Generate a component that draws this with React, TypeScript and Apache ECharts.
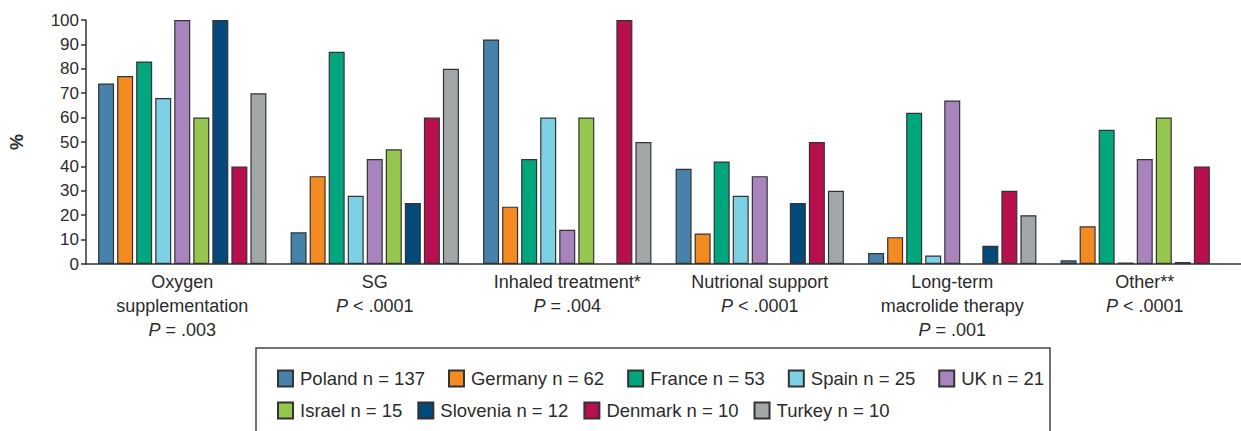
import React, { useEffect, useRef } from "react";
import * as echarts from "echarts";

const categories = [
  "Oxygen\nsupplementation",
  "SG",
  "Inhaled treatment*",
  "Nutrional support",
  "Long-term\nmacrolide therapy",
  "Other**",
];
const pValues = ["= .003", "< .0001", "= .004", "< .0001", "= .001", "< .0001"];

const countries = [
  "Poland n = 137",
  "Germany n = 62",
  "France n = 53",
  "Spain n = 25",
  "UK n = 21",
  "Israel n = 15",
  "Slovenia n = 12",
  "Denmark n = 10",
  "Turkey n = 10",
];
const colors = [
  "#4682A9",
  "#F48B21",
  "#00A67E",
  "#7CD1E4",
  "#A884BE",
  "#95C74F",
  "#03497A",
  "#B80F4E",
  "#A2A8AA",
];

const poland = [74, 13, 92, 39, 4.5, 1.5];
const germany = [77, 36, 23.5, 12.5, 11, 15.5];
const france = [83, 87, 43, 42, 62, 55];
const spain = [68, 28, 60, 28, 3.5, 0.6];
const uk = [100, 43, 14, 36, 67, 43];
const israel = [60, 47, 60, null, null, 60];
const slovenia = [100, 25, null, 25, 7.5, 0.8];
const denmark = [40, 60, 100, 50, 30, 40];
const turkey = [70, 80, 50, 30, 20, null];

const seriesValues = [poland, germany, france, spain, uk, israel, slovenia, denmark, turkey];

const yTicks = [0, 10, 20, 30, 40, 50, 60, 70, 80, 90, 100];

const FONT = "'Liberation Sans', Arial, Helvetica, sans-serif";
const TEXT = "#2b2b2b";

export default function App() {
  const ref = useRef<HTMLDivElement>(null);
  useEffect(() => {
    document.body.style.margin = "0";
    const chart = echarts.init(ref.current!, null, { renderer: "svg" });
    const legendCommon = {
      orient: "horizontal",
      itemWidth: 15,
      itemHeight: 16,
      padding: 0,
      icon: "rect",
      selectedMode: false,
      textStyle: { fontSize: 18.5, color: TEXT, fontFamily: FONT, padding: [0, 0, 0, 2] },
    };
    chart.setOption({
      animation: false,
      textStyle: { fontFamily: FONT },
      grid: { left: 83, right: 0, top: 20, bottom: 167, containLabel: false },
      legend: [
        { ...legendCommon, itemGap: 23, left: 277, top: 369, data: countries.slice(0, 5) },
        { ...legendCommon, itemGap: 15, left: 277, top: 401, data: countries.slice(5) },
      ],
      graphic: [
        {
          type: "rect",
          shape: { x: 256, y: 348, width: 794, height: 100 },
          style: { fill: "none", stroke: "#444", lineWidth: 1.5 },
          silent: true,
        },
      ],
      xAxis: {
        type: "category",
        data: categories,
        axisLine: { lineStyle: { color: "#333", width: 1.5 } },
        axisTick: { show: false },
        axisLabel: {
          interval: 0,
          margin: 6,
          fontSize: 18,
          lineHeight: 24,
          color: TEXT,
          fontFamily: FONT,
          formatter: (v: string) => {
            const i = categories.indexOf(v);
            return v + "\n{i|P} " + pValues[i];
          },
          rich: {
            i: { fontStyle: "italic", fontSize: 18, lineHeight: 24, color: TEXT, fontFamily: FONT },
          },
        },
      },
      yAxis: {
        type: "value",
        min: yTicks[0],
        max: yTicks[yTicks.length - 1],
        interval: 10,
        name: "%",
        nameLocation: "middle",
        nameRotate: 90,
        nameGap: 60,
        nameTextStyle: { fontSize: 18, fontWeight: "bold", color: TEXT, fontFamily: FONT },
        axisLine: { show: true, lineStyle: { color: "#333", width: 1.5 } },
        axisTick: { show: true, length: 5, lineStyle: { color: "#333", width: 1.5 } },
        axisLabel: { fontSize: 17, color: TEXT, margin: 7, fontFamily: FONT },
        splitLine: { show: false },
      },
      series: countries.map((name, k) => ({
        name,
        type: "bar",
        data: seriesValues[k],
        barWidth: 16,
        barGap: "19%",
        itemStyle: { color: colors[k], borderColor: "#333", borderWidth: 1.2 },
      })),
    });
    return () => chart.dispose();
  }, []);
  return <div ref={ref} style={{ width: 1241, height: 431 }} />;
}
